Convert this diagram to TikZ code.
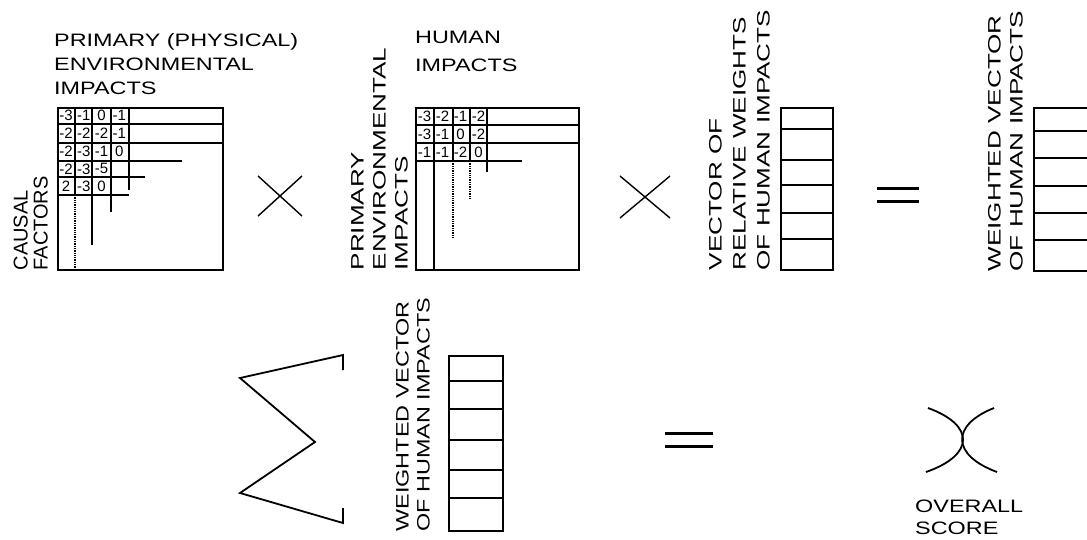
\documentclass[tikz,border=0pt]{standalone}
\usepackage{fontspec}
\newfontfamily\letterfont[FakeStretch=1.3]{Liberation Sans}
\newfontfamily\wideletterfont[FakeStretch=1.45]{Liberation Sans}
\newfontfamily\narrowletterfont{Liberation Sans}
\usetikzlibrary{positioning, calc}

\tikzset{
  matbox/.style={draw, line width=1.6pt, inner sep=0pt, minimum width=#1, minimum height=162pt},
  vecbox/.style={draw, line width=1.6pt, inner sep=0pt, minimum width=#1},
  gridline/.style={line width=1.3pt},
  lbl/.style={font=\letterfont\fontsize{18}{#1}\selectfont, align=left, inner sep=0pt},
  lbl/.default=24,
  widelbl/.style={lbl, font=\wideletterfont\fontsize{18}{#1}\selectfont},
  narrowlbl/.style={lbl, font=\narrowletterfont\fontsize{20}{#1}\selectfont},
  rlbl/.style={lbl=#1, rotate=90, anchor=south west},
  rlbl/.default=22,
  rwlbl/.style={widelbl=#1, rotate=90, anchor=south west},
  rnlbl/.style={narrowlbl=#1, rotate=90, anchor=south west},
  cell/.style={font=\narrowletterfont\fontsize{15}{16}\selectfont, inner sep=0pt},
  oper/.style={line width=1.4pt},
  eqline/.style={line width=2.6pt},
}

\begin{document}
\begin{tikzpicture}[x=1pt, y=-1pt, line join=miter]
    \useasboundingbox (0,0) rectangle (1087,539);

    % Causal factors x primary impacts
    \node[matbox=165pt, anchor=north west] (m1) at (57,107) {};
    \foreach \y in {124,143} \draw[gridline] (m1.west |- 0,\y) -- (m1.east |- 0,\y);
    \foreach \y/\xe in {161/182,177/145,195/129} \draw[gridline] (m1.west |- 0,\y) -- (\xe,\y);
    \foreach \x/\ye in {92/245,111/212,129/190} \draw[gridline] (\x,0 |- m1.north) -- (\x,\ye);
    \draw[gridline] (75,0 |- m1.north) -- (75,195);
    \draw[gridline, densely dotted] (75,195) -- (75,0 |- m1.south);
    \foreach \row [count=\r from 0] in {{-3,-1,0,-1},{-2,-2,-2,-1},{-2,-3,-1,0},{-2,-3,-5},{2,-3,0}}
      \foreach \t [count=\c from 0] in \row
        \node[cell] at (66+17.8*\c, 115.5+17.8*\r) {\t};

    \node[lbl, above right=12pt and -3pt of m1.north west] (m1top) {PRIMARY (PHYSICAL)\\ENVIRONMENTAL\\IMPACTS};
    \node[rnlbl=20] (m1side) at ([xshift=-9pt]m1.south west) {CAUSAL\\FACTORS};

    % Primary impacts x human impacts
    \node[matbox=163pt, anchor=north west] (m2) at (415,107) {};
    \foreach \y in {125,143} \draw[gridline] (m2.west |- 0,\y) -- (m2.east |- 0,\y);
    \draw[gridline] (m2.west |- 0,161) -- (522,161);
    \draw[gridline] (434,0 |- m2.north) -- (434,0 |- m2.south);
    \foreach \x/\ye in {453/239,470/200} {
      \draw[gridline] (\x,0 |- m2.north) -- (\x,161);
      \draw[gridline, densely dotted] (\x,161) -- (\x,\ye);
    }
    \draw[gridline] (487,0 |- m2.north) -- (487,172);
    \foreach \row [count=\r from 0] in {{-3,-2,-1,-2},{-3,-1,0,-2},{-1,-1,-2,0}}
      \foreach \t [count=\c from 0] in \row
        \node[cell] at (424.5+18*\c, 116+18*\r) {\t};

    \node[lbl=28, above right=35pt and 0pt of m2.north west] (m2top) {HUMAN\\IMPACTS};
    \node[rwlbl=22] (m2side) at ([xshift=-7pt]m2.south west) {PRIMARY\\ENVIRONMENTAL\\IMPACTS};

    % Weights vector
    \node[vecbox=52pt, minimum height=162pt, anchor=north west] (v1) at (780,107) {};
    \foreach \y in {129,160,185,213,239} \draw[gridline] (v1.west |- 0,\y) -- (v1.east |- 0,\y);
    \node[rwlbl=24] (v1side) at ([xshift=-10pt]v1.south west) {VECTOR OF\\RELATIVE WEIGHTS\\OF HUMAN IMPACTS};

    % Weighted vector
    \node[vecbox=67pt, minimum height=163pt, anchor=north west] (v2) at (1033,107) {};
    \foreach \y in {131,158,186,213,240} \draw[gridline] (v2.west |- 0,\y) -- (v2.east |- 0,\y);
    \node[rwlbl=22] (v2side) at ([xshift=-10pt]v2.south west) {WEIGHTED VECTOR\\OF HUMAN IMPACTS};

    % Weighted vector, summed
    \node[vecbox=54pt, minimum height=175pt, anchor=north west] (v3) at (448,355) {};
    \foreach \y in {381,409,440,470,498} \draw[gridline] (v3.west |- 0,\y) -- (v3.east |- 0,\y);
    \node[rlbl=21] (v3side) at ([xshift=-18pt]v3.south west) {WEIGHTED VECTOR\\OF HUMAN IMPACTS};

    % Operators
    \coordinate (times1) at (280,196);
    \coordinate (times2) at (645,197);
    \coordinate (eq1) at (898,195);
    \coordinate (eq2) at (689,440);
    \coordinate (score) at (963,440);
    \draw[oper] ($(times1)+(-22,-20)$) -- ($(times1)+(22,20)$) ($(times1)+(-22,20)$) -- ($(times1)+(22,-20)$);
    \draw[oper] ($(times2)+(-25,-21)$) -- ($(times2)+(25,21)$) ($(times2)+(-25,21)$) -- ($(times2)+(25,-21)$);
    \draw[eqline] ($(eq1)+(-21,-6.5)$) -- ($(eq1)+(21,-6.5)$) ($(eq1)+(-21,6.5)$) -- ($(eq1)+(21,6.5)$);
    \draw[eqline] ($(eq2)+(-24,-6.5)$) -- ($(eq2)+(24,-6.5)$) ($(eq2)+(-24,6.5)$) -- ($(eq2)+(24,6.5)$);

    % Sum sign
    \draw[line width=1.8pt] (343,370) -- (343,355) -- (240,378) -- (315,442) -- (240,493) -- (343,523) -- (343,508);

    % Overall score
    \draw[line width=1.8pt] (928,408) .. controls (975,425) and (975,455) .. (926,472);
    \draw[line width=1.8pt] (994,408) .. controls (951,425) and (951,455) .. (997,472);
    \node[lbl=22, anchor=north west] (scorelbl) at ([xshift=-48pt, yshift=-60pt]score) {OVERALL\\SCORE};
\end{tikzpicture}
\end{document}
